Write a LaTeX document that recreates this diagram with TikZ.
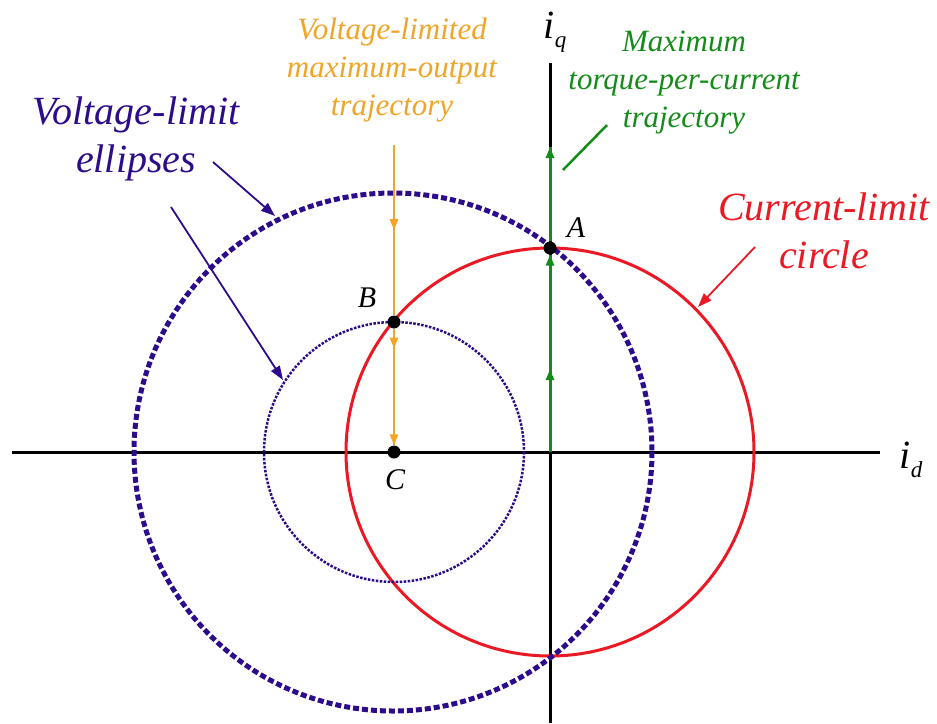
\documentclass[tikz,border=0pt]{standalone}
\usepackage{fontspec}
\setmainfont{Liberation Serif}
\usetikzlibrary{arrows.meta,decorations.markings}
\definecolor{vblue}{RGB}{45,12,140}
\definecolor{vorange}{RGB}{240,165,40}
\definecolor{tgreen}{RGB}{20,140,25}
\definecolor{cred}{RGB}{235,25,35}
\tikzset{
  midarrow/.style={postaction={decorate,decoration={markings,mark=at position #1 with {\arrow{Triangle[length=11pt,width=8pt]}}}}},
  pointer/.style={line width=1.8pt,-{Triangle[length=14pt,width=10pt]}},
  biglabel/.style={font=\itshape\fontsize{40}{48}\selectfont,align=center},
  smalllabel/.style={font=\itshape\fontsize{31}{38}\selectfont,align=center},
  ptlabel/.style={font=\itshape\fontsize{30}{32}\selectfont},
  axlabel/.style={font=\itshape\fontsize{40}{40}\selectfont}
}
\newcommand{\spot}[3]{\node[circle,fill=black,inner sep=0pt,minimum size=13pt] (#1) at (#2,#3){};}

\begin{document}
\begin{tikzpicture}[x=1pt,y=-1pt]
\useasboundingbox (0,0) rectangle (937,723);
\foreach \n/\x/\y in {O/550/452,dl/12/452,dr/880/452,qb/550/723,qt/550/63,ot/394/145,gt/550/147,vc/393/452}{\coordinate (\n) at (\x,\y);}
% axes
\draw[line width=3pt] (dl)--(dr) (qb)--(qt);
% limit curves
\draw[cred,line width=3pt] (O) circle[radius=204];
\draw[vblue,line width=5pt,dash pattern=on 6pt off 3pt] (vc) circle[radius=259];
\draw[vblue,line width=2.5pt,dash pattern=on 2.5pt off 1.5pt] (394,452) circle[radius=130];
\spot{A}{550}{248}\spot{B}{394}{322}\spot{C}{394}{452}
% trajectories
\draw[vorange,line width=2.5pt,midarrow=0.5] (ot)--(B);
\draw[vorange,line width=2.5pt,midarrow=0.17,midarrow=1] (B)--(C);
\draw[tgreen,line width=3pt,midarrow=0.42,midarrow=1] (O)--(A);
\draw[tgreen,line width=3pt,midarrow=1] (A)--(gt);
% labels
\node[ptlabel] (la) at (576,228) {A};
\node[ptlabel] (lb) at (367,298) {B};
\node[ptlabel] (lc) at (395,480) {C};
\node[axlabel] (iq) at (555,32) {i\raisebox{-0.5ex}{\fontsize{23}{23}\selectfont q}};
\node[axlabel] (id) at (911,460) {i\raisebox{-0.5ex}{\fontsize{23}{23}\selectfont d}};
\node[biglabel,text=vblue] (ve) at (136,139) {Voltage-limit\\ellipses};
\node[smalllabel,text=vorange] (vt) at (392,70) {Voltage-limited\\maximum-output\\trajectory};
\node[smalllabel,text=tgreen] (mt) at (684,83) {Maximum\\torque-per-current\\trajectory};
\node[biglabel,text=cred] (cc) at (824,231) {Current-limit\\circle};
% pointers
\foreach \n/\x/\y in {p1/213/162,p1e/275/216,p2/171/207,p2e/283/380,p3/755/247,p3e/698/307,p4/607/125,p4e/563/170}{\coordinate (\n) at (\x,\y);}
\draw[vblue,pointer] (p1)--(p1e);
\draw[vblue,pointer] (p2)--(p2e);
\draw[cred,pointer] (p3)--(p3e);
\draw[tgreen,line width=2.5pt] (p4)--(p4e);
\end{tikzpicture}
\end{document}
